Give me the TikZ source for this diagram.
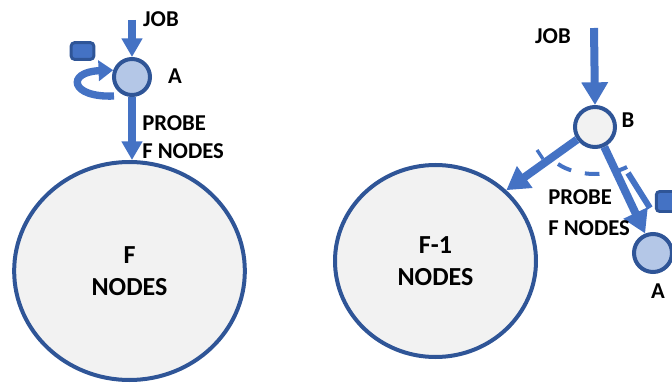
\documentclass[tikz,border=0pt]{standalone}
\usepackage{fontspec}
\setmainfont{Carlito}
\usetikzlibrary{arrows.meta,shapes.geometric}
\definecolor{flow}{HTML}{4472C4}
\definecolor{rim}{HTML}{2F5597}
\definecolor{pale}{HTML}{F2F2F2}
\definecolor{nodeblue}{HTML}{B4C7E7}
\begin{document}
\begin{tikzpicture}[x=0.75pt,y=-0.75pt,
  lbl/.style={font=\fontsize{17}{18}\selectfont\bfseries, inner sep=0pt},
  bignode/.style={ellipse, draw=rim, fill=pale, line width=3pt, align=center,
    font=\fontsize{19.5}{24}\selectfont\bfseries, inner sep=0pt},
  smallnode/.style={circle, draw=rim, line width=3pt, inner sep=0pt},
  token/.style={rectangle, rounded corners=2.5pt, draw=rim, fill=flow, line width=2.2pt, inner sep=0pt},
  arrS/.style={draw=flow, line width=6pt, -{Triangle[width=15pt,length=14pt]}},
  arrL/.style={draw=flow, line width=6pt, -{Triangle[width=19pt,length=17pt]}},
  bar/.style={draw=flow, line width=4.5pt},
  arcmark/.style={draw=flow, line width=3pt, dash pattern=on 11pt off 10.5pt},
]
\useasboundingbox (0,0) rectangle (672,385);

% ---------- left group: one node A probing F nodes ----------
\node[bignode, minimum width=173pt, minimum height=163.5pt] (F) at (129.5,271) {F\\NODES};
\node[smallnode, fill=nodeblue, minimum size=27pt] (A1) at (132,77) {};
\node[token, minimum width=17pt, minimum height=12.5pt] (sq1) at (82.5,51) {};
\coordinate (jobL) at (132,20);
\coordinate (loopS) at (114,96);

\draw[arrS] (jobL) -- (A1.north);
\draw[arrS] (A1.south) -- (A1.south |- F.north);
\draw[draw=flow, line width=5.5pt, -{Triangle[width=15pt,length=11pt]}]
  (loopS) .. controls (70,98) and (66,72) .. (A1.160);

\node[lbl] (jobLl) at (161,19) {JOB};
\node[lbl] (aL) at (175,76) {A};
\node[lbl, anchor=west] (probeL) at (142,123) {PROBE};
\node[lbl, anchor=west] (fnL) at (142,151) {F NODES};

% ---------- right group: node B splitting the probe ----------
\node[bignode, minimum width=150.75pt, minimum height=144pt] (F1) at (435.5,261) {F-1\\NODES};
\node[smallnode, fill=pale, minimum size=30pt] (B) at (595,127) {};
\node[smallnode, fill=nodeblue, minimum size=28.5pt] (A2) at (653,253) {};
\node[token, minimum width=19pt, minimum height=15pt] (sq2) at (669,201.5) {};
\coordinate (jobR) at (594,28);
\coordinate (barS) at (628,173);
\coordinate (barE) at (650,208);

% dashed angle mark between the two probe arrows
\draw[arcmark] (558,164) .. controls (577,177) and (612,178) .. (634,163);
\draw[draw=flow, line width=2.5pt] (543,159) -- (537,150);

\draw[arrL] (jobR) -- (B.north);
\draw[arrL] (B.215) -- (F1.45);
\draw[bar] (barS) -- (barE);
\draw[arrL] (B.295) -- (A2.112);

\node[lbl] (jobRl) at (553,36) {JOB};
\node[lbl] (bR) at (628,120) {B};
\node[lbl, anchor=west] (probeR) at (548,197) {PROBE};
\node[lbl, anchor=west] (fnR) at (548,228) {F NODES};
\node[lbl] (aR) at (658,291) {A};
\end{tikzpicture}
\end{document}
